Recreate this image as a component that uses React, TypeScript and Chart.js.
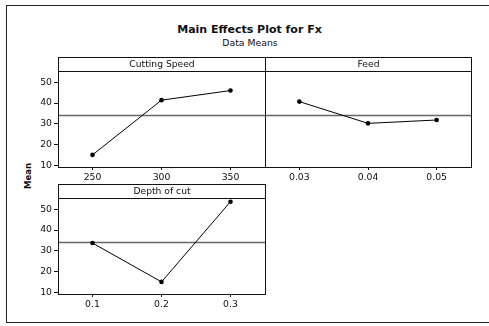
import React, { useEffect, useRef } from "react";
import { Chart, registerables } from "chart.js";

Chart.register(...registerables);

// ---- data ----
const speedLevels = ["250", "300", "350"];
const speedMeans = [15.2, 41.4, 46.0];
const feedLevels = ["0.03", "0.04", "0.05"];
const feedMeans = [40.7, 30.3, 31.9];
const depthLevels = ["0.1", "0.2", "0.3"];
const depthMeans = [33.8, 15.2, 53.6];
const grandMean = 34.2;
const yTicks = [10, 20, 30, 40, 50];
const yMin = 9.4;
const yMax = 55.6;

const FONT = "'DejaVu Sans', Verdana, sans-serif";
const STRIP_H = 13.5;

const panelPlugin = {
  id: "panelDecor",
  beforeDatasetsDraw(chart: any, _args: any, opts: any) {
    const { ctx, chartArea: a, scales } = chart;
    const y = Math.round(scales.y.getPixelForValue(opts.refValue)) + 0.5;
    ctx.save();
    ctx.strokeStyle = "#666";
    ctx.lineWidth = 1.3;
    ctx.beginPath();
    ctx.moveTo(a.left, y);
    ctx.lineTo(a.right, y);
    ctx.stroke();
    ctx.restore();
  },
  afterDraw(chart: any, _args: any, opts: any) {
    const { ctx, chartArea: a } = chart;
    const l = Math.round(a.left) + 0.5;
    const r = Math.round(a.right) + 0.5;
    const t = Math.round(a.top) + 0.5;
    const b = Math.round(a.bottom) + 0.5;
    ctx.save();
    ctx.strokeStyle = "#111";
    ctx.lineWidth = 1;
    ctx.strokeRect(l, t, r - l, b - t);
    const st = Math.round(a.top - STRIP_H) + 0.5;
    ctx.strokeRect(l, st, r - l, t - st);
    ctx.fillStyle = "#111";
    ctx.font = `9.2px ${FONT}`;
    ctx.textAlign = "center";
    ctx.textBaseline = "middle";
    ctx.fillText(opts.label, (l + r) / 2, (st + t) / 2 + 0.5);
    ctx.restore();
  },
};

type PanelProps = {
  labels: string[];
  values: number[];
  title: string;
  showY: boolean;
  pad: { left: number; top: number; right: number; bottom: number };
};

function Panel({ labels, values, title, showY, pad }: PanelProps) {
  const ref = useRef<HTMLCanvasElement>(null);
  useEffect(() => {
    if (!ref.current) return;
    const tickFont = { family: FONT, size: 9.3 };
    const chart = new Chart(ref.current, {
      type: "line",
      data: {
        labels,
        datasets: [
          {
            data: values,
            borderColor: "#000",
            borderWidth: 1,
            pointRadius: 2.3,
            pointBackgroundColor: "#000",
            pointBorderColor: "#000",
            pointBorderWidth: 0,
            tension: 0,
          },
        ],
      },
      options: {
        responsive: false,
        animation: false,
        events: [],
        layout: { padding: pad },
        plugins: {
          legend: { display: false },
          tooltip: { enabled: false },
          title: { display: false },
          panelDecor: { label: title, refValue: grandMean },
        } as any,
        scales: {
          x: {
            type: "category",
            offset: true,
            grid: {
              offset: false,
              drawOnChartArea: false,
              drawTicks: true,
              tickLength: 3,
              color: "#111",
            },
            border: { display: false },
            ticks: {
              font: tickFont,
              color: "#111",
              padding: 2,
              maxRotation: 0,
              autoSkip: false,
            },
            afterFit: (s: any) => {
              s.height = 30;
            },
          },
          y: {
            display: showY,
            min: yMin,
            max: yMax,
            afterBuildTicks: (s: any) => {
              s.ticks = yTicks.map((v) => ({ value: v }));
            },
            grid: {
              drawOnChartArea: false,
              drawTicks: true,
              tickLength: 4,
              color: "#111",
            },
            border: { display: false },
            ticks: { font: tickFont, color: "#111", padding: 2 },
            afterFit: (s: any) => {
              s.width = showY ? 58 : 0;
            },
          },
        },
      },
      plugins: [panelPlugin],
    });
    return () => chart.destroy();
  }, []);
  return (
    <canvas
      ref={ref}
      width={489}
      height={326}
      style={{ position: "absolute", left: 0, top: 0, width: 489, height: 326 }}
    />
  );
}

export default function App() {
  return (
    <div
      style={{
        position: "fixed",
        left: 0,
        top: 0,
        width: 489,
        height: 326,
        overflow: "hidden",
        background: "#fff",
        fontFamily: FONT,
        color: "#111",
      }}
    >
      <div
        style={{
          position: "absolute",
          left: 6,
          top: 5,
          width: 500,
          height: 316,
          border: "1px solid #222",
        }}
      />
      <div
        style={{
          position: "absolute",
          left: 0,
          top: 23,
          width: 499,
          textAlign: "center",
          fontWeight: "bold",
          fontSize: 11,
          lineHeight: "13px",
        }}
      >
        Main Effects Plot for Fx
      </div>
      <div
        style={{
          position: "absolute",
          left: 0,
          top: 36,
          width: 500,
          textAlign: "center",
          fontSize: 9.3,
          lineHeight: "13px",
        }}
      >
        Data Means
      </div>
      <div
        style={{
          position: "absolute",
          left: 28,
          top: 176,
          transform: "translate(-50%, -50%) rotate(-90deg)",
          fontWeight: "bold",
          fontSize: 8.5,
          lineHeight: "10px",
          whiteSpace: "nowrap",
        }}
      >
        Mean
      </div>
      <Panel
        labels={speedLevels}
        values={speedMeans}
        title="Cutting Speed"
        showY={true}
        pad={{ left: 0, top: 70.5, right: 224, bottom: 129 }}
      />
      <Panel
        labels={feedLevels}
        values={feedMeans}
        title="Feed"
        showY={false}
        pad={{ left: 265, top: 70.5, right: 18, bottom: 129 }}
      />
      <Panel
        labels={depthLevels}
        values={depthMeans}
        title="Depth of cut"
        showY={true}
        pad={{ left: 0, top: 197.5, right: 224, bottom: 2 }}
      />
    </div>
  );
}
